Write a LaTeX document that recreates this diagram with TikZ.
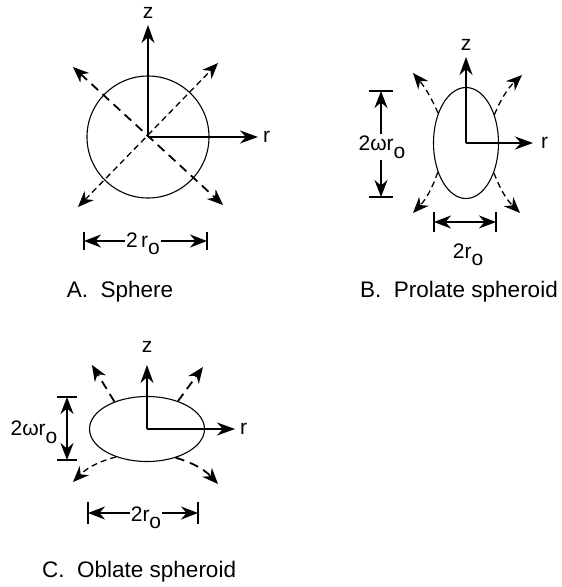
\documentclass[tikz,border=0pt]{standalone}
\usepackage{fontspec}
\setmainfont{Liberation Sans}
\usetikzlibrary{arrows.meta,positioning,shapes.geometric}
\newcommand{\rsub}{r\raisebox{-0.7ex}{o}}

\begin{document}
\begin{tikzpicture}[x=1pt,y=-1pt,
  axis/.style={line width=2pt,-{Stealth[length=18pt,width=13pt]}},
  flow/.style={line width=1.8pt,dash pattern=on 9pt off 6pt,-{Stealth[length=16pt,width=13pt]}},
  flowthin/.style={line width=1.3pt,dash pattern=on 6pt off 4pt},
  twoway/.style={{Stealth[length=16pt,width=13pt]}-{Stealth[length=16pt,width=13pt]}},
  body/.style={draw,line width=1.1pt,inner sep=0pt},
  dim/.style={line width=2pt,-{Stealth[length=17pt,width=13pt]}},
  dimtwo/.style={line width=2pt,{Stealth[length=17pt,width=13pt]}-{Stealth[length=17pt,width=13pt]}},
  bar/.style={line width=1.3pt},
  lbl/.style={inner sep=1pt,font=\fontsize{21}{25}\selectfont},
  caption/.style={inner sep=0pt,font=\fontsize{22.5}{26}\selectfont}]
  \useasboundingbox (0,0) rectangle (562,587);

  % A. sphere
  \node[body,circle,minimum size=122pt] (sB) at (148,137) {};
  \coordinate (sztip) at (148,25);
  \coordinate (srtip) at (258,137);
  \node[lbl,above=5pt of sztip] (sz) {z};
  \node[lbl,right=4pt of srtip] (sr) {r};
  \draw[axis] (sB.center) -- (sztip);
  \draw[axis] (sB.center) -- (srtip);
  \coordinate (sul) at (73,67);
  \coordinate (slr) at (223,205);
  \coordinate (sur) at (218,63);
  \coordinate (sll) at (78,207);
  \draw[flow,twoway] (sul) -- (slr);
  \draw[flow,flowthin,twoway] (sll) -- (sur);
  % width of sphere
  \coordinate (swl) at (84,241);
  \coordinate (swr) at (207,241);
  \node[lbl,anchor=base] (sw) at (143,247) {2\,\rsub};
  \draw[dim] (sw.west |- swl) -- (swl);
  \draw[dim] (sw.east |- swr) -- (swr);
  \draw[bar] (swl) ++(0,-9) -- ++(0,18);
  \draw[bar] (swr) ++(0,-9) -- ++(0,18);
  \node[caption,anchor=base] (scap) at (120,297) {A.\ \ Sphere};

  % B. prolate spheroid
  \node[body,ellipse,minimum width=65pt,minimum height=111pt] (pB) at (466,143) {};
  \coordinate (pztip) at (466,57);
  \coordinate (prtip) at (533,143);
  \node[lbl,above=5pt of pztip] (pz) {z};
  \node[lbl,right=7pt of prtip] (pr) {r};
  \draw[axis] (pB.center) -- (pztip);
  \draw[axis] (pB.center) -- (prtip);
  \coordinate (pul) at (413,73);
  \coordinate (pur) at (522,75);
  \coordinate (pll) at (413,213);
  \coordinate (plr) at (520,213);
  \draw[flow,flowthin] (pB.133) to[bend right=8] (pul);
  \draw[flow,flowthin] (pB.45) to[bend left=12] (pur);
  \draw[flow,flowthin] (pB.226) to[bend left=12] (pll);
  \draw[flow,flowthin] (pB.313) to[bend right=12] (plr);
  % height of prolate
  \coordinate (pht) at (381,91);
  \coordinate (phb) at (381,197);
  \node[lbl] (ph) at (382,147) {2ω\rsub};
  \draw[dim] (ph.north -| pht) -- (pht);
  \draw[dim] (ph.south -| phb) -- (phb);
  \draw[bar] (pht) ++(-12,0) -- ++(24,0);
  \draw[bar] (phb) ++(-12,0) -- ++(24,0);
  % width of prolate
  \coordinate (pwl) at (434,222);
  \coordinate (pwr) at (496,222);
  \draw[dimtwo] (pwl) -- (pwr);
  \draw[bar] (pwl) ++(0,-10) -- ++(0,20);
  \draw[bar] (pwr) ++(0,-10) -- ++(0,20);
  \node[lbl,anchor=base] (pw) at (468,258) {2\rsub};
  \node[caption,anchor=base east] (pcap) at (558,297) {B.\ \ Prolate spheroid};

  % C. oblate spheroid
  \node[body,ellipse,minimum width=115pt,minimum height=65pt] (oB) at (147,429) {};
  \coordinate (oztip) at (147,365);
  \coordinate (ortip) at (235,429);
  \node[lbl,above=11pt of oztip] (oz) {z};
  \node[lbl,right=4pt of ortip] (or) {r};
  \draw[axis] (oB.center) -- (oztip);
  \draw[axis] (oB.center) -- (ortip);
  \coordinate (oul) at (92,365);
  \coordinate (our) at (203,367);
  \coordinate (oll) at (73,482);
  \coordinate (olr) at (218,484);
  \draw[flow] (oB.140) -- (oul);
  \draw[flow] (oB.42) -- (our);
  \draw[flow,flowthin] (oB.222) to[bend right=15] (oll);
  \draw[flow] (oB.315) to[bend left=15] (olr);
  % height of oblate
  \coordinate (oht) at (67,397);
  \coordinate (ohb) at (67,460);
  \draw[dimtwo] (oht) -- (ohb);
  \draw[bar] (oht) ++(-10,0) -- ++(20,0);
  \draw[bar] (ohb) ++(-10,0) -- ++(20,0);
  \node[lbl] (oh) at (34,432) {2ω\rsub};
  % width of oblate
  \coordinate (owl) at (88,513);
  \coordinate (owr) at (198,513);
  \node[lbl,anchor=base] (ow) at (146,521) {2\rsub};
  \draw[dim] (ow.west |- owl) -- (owl);
  \draw[dim] (ow.east |- owr) -- (owr);
  \draw[bar] (owl) ++(0,-11) -- ++(0,22);
  \draw[bar] (owr) ++(0,-11) -- ++(0,22);
  \node[caption,anchor=base west] (ocap) at (42,577) {C.\ \ Oblate spheroid};
\end{tikzpicture}
\end{document}
